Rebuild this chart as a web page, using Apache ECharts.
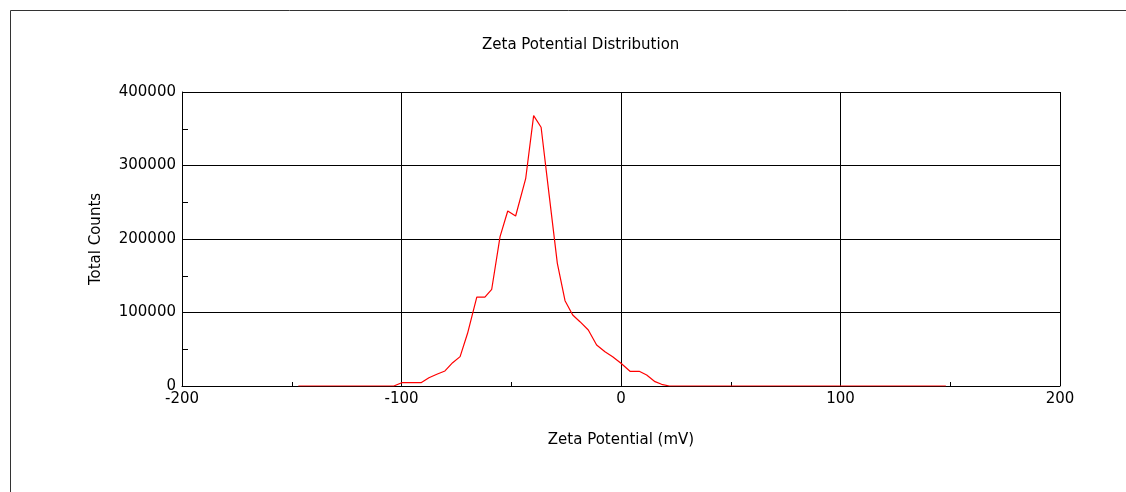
<!DOCTYPE html>
<html>
<head>
<meta charset="utf-8">
<script src="https://cdn.jsdelivr.net/npm/echarts@6/dist/echarts.min.js"></script>
<style>
html,body{margin:0;padding:0;background:#fff;}
#c{width:1126px;height:492px;}
</style>
</head>
<body>
<div id="c"></div>
<script>
const zeta = [-147, -103.5, -99.9, -95.5, -91.1, -87.5, -83.9, -80.2, -76.7, -73.3, -69.9, -65.7, -62.0, -58.9, -55.1, -51.6, -48.0, -43.4, -39.8, -36.4, -32.7, -29.0, -25.5, -22.0, -18.7, -14.9, -11.1, -7.3, -3.8, 0, 4.1, 8.3, 11.7, 15.5, 18.5, 22, 148];
const counts = [0, 0, 4500, 4500, 4500, 11300, 16000, 20500, 31700, 40000, 71700, 121000, 121000, 131600, 203200, 238100, 231300, 282600, 367800, 352000, 259000, 166900, 116100, 96600, 87500, 76200, 55800, 46700, 39900, 30900, 20000, 20000, 15000, 5900, 2300, 0, 0];
const xTicks = [-200, -100, 0, 100, 200];
const yTicks = [0, 100000, 200000, 300000, 400000];

const font = 'DejaVu Sans';
const chart = echarts.init(document.getElementById('c'), null, {renderer: 'canvas'});
const data = zeta.map((x, i) => [x, counts[i]]);

chart.setOption({
  animation: false,
  backgroundColor: '#fff',
  title: {
    text: 'Zeta Potential Distribution',
    left: 477, top: 33,
    textStyle: {fontFamily: font, fontSize: 15, fontWeight: 'normal', color: '#000'}
  },
  graphic: [{
    type: 'polyline',
    shape: {points: [[10.5, 500], [10.5, 10.5], [1130, 10.5]]},
    style: {stroke: '#333', lineWidth: 1, fill: null},
    silent: true
  }],
  grid: {left: 182, right: 66, top: 92, bottom: 106, containLabel: false},
  xAxis: {
    type: 'value', min: xTicks[0], max: xTicks[xTicks.length - 1], interval: 100,
    name: 'Zeta Potential (mV)', nameLocation: 'middle', nameGap: 47,
    nameTextStyle: {fontFamily: font, fontSize: 15, color: '#000'},
    axisLine: {show: true, onZero: false, lineStyle: {color: '#000', width: 1}},
    axisTick: {show: true, inside: true, length: 4, lineStyle: {color: '#000'}},
    minorTick: {show: true, splitNumber: 2, length: 4, lineStyle: {color: '#000'}},
    axisLabel: {fontFamily: font, fontSize: 15, color: '#000', margin: 6, formatter: v => String(v)},
    splitLine: {show: true, lineStyle: {color: '#000', width: 1}}
  },
  yAxis: [{
    type: 'value', min: yTicks[0], max: yTicks[yTicks.length - 1], interval: 100000,
    name: 'Total Counts', nameLocation: 'middle', nameGap: 78, nameRotate: 90,
    nameTextStyle: {fontFamily: font, fontSize: 15, color: '#000'},
    axisLine: {show: true, onZero: false, lineStyle: {color: '#000', width: 1}},
    axisTick: {show: true, inside: true, length: 6, lineStyle: {color: '#000'}},
    minorTick: {show: true, splitNumber: 2, length: 6, lineStyle: {color: '#000'}},
    axisLabel: {fontFamily: font, fontSize: 15, color: '#000', margin: 6, formatter: v => String(v)},
    splitLine: {show: true, lineStyle: {color: '#000', width: 1}}
  }, {
    type: 'value', min: yTicks[0], max: yTicks[yTicks.length - 1], interval: 100000,
    position: 'left',
    axisLine: {show: false},
    axisTick: {show: true, inside: false, length: 5, lineStyle: {color: '#000'}},
    axisLabel: {show: false},
    splitLine: {show: false}
  }],
  series: [{
    type: 'line',
    data: data,
    yAxisIndex: 0,
    showSymbol: false,
    symbol: 'none',
    lineStyle: {color: '#ff0000', width: 1.2},
    itemStyle: {color: '#ff0000'},
    z: 5
  }]
});
</script>
</body>
</html>
